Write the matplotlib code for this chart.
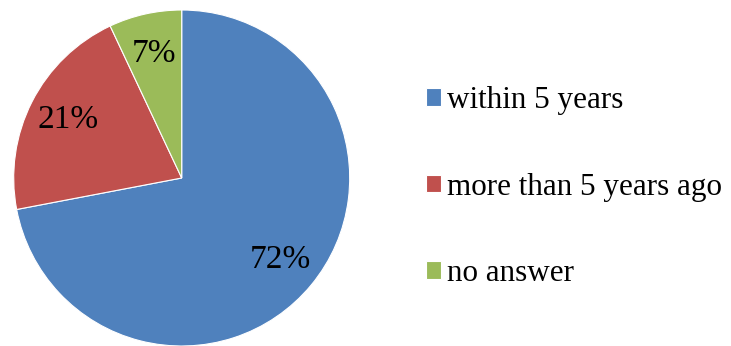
import matplotlib.pyplot as plt

# data
labels = ['within 5 years', 'more than 5 years ago', 'no answer']
shares = [72, 21, 7]
colors = ['#4F81BD', '#C0504D', '#9BBB59']

plt.rcParams['font.family'] = ['Liberation Serif', 'DejaVu Serif']

W, H = 731, 346
fig = plt.figure(figsize=(W / 100, H / 100), dpi=100)

# pie centre ~ (181.7, 178) px, radius ~168 px
cx, cy, r = 181.7, 178, 168
ax = fig.add_axes([(cx - r) / W, (H - cy - r) / H, 2 * r / W, 2 * r / H])

wedges, texts, autotexts = ax.pie(
    shares, colors=colors, startangle=90, counterclock=False,
    autopct='%1.0f%%', pctdistance=0.76,
    wedgeprops=dict(edgecolor='white', linewidth=0.8),
    textprops=dict(fontsize=24, color='black'))
ax.set_xlim(-1, 1)
ax.set_ylim(-1, 1)

fig.legend(wedges, labels, loc='center left',
           bbox_to_anchor=(426 / W, (H - 187) / H),
           frameon=False, fontsize=22.4, borderpad=0, borderaxespad=0,
           handlelength=0.48, handleheight=0.48, handletextpad=0.2,
           labelspacing=1.85)

plt.savefig('out.png', dpi=100)
